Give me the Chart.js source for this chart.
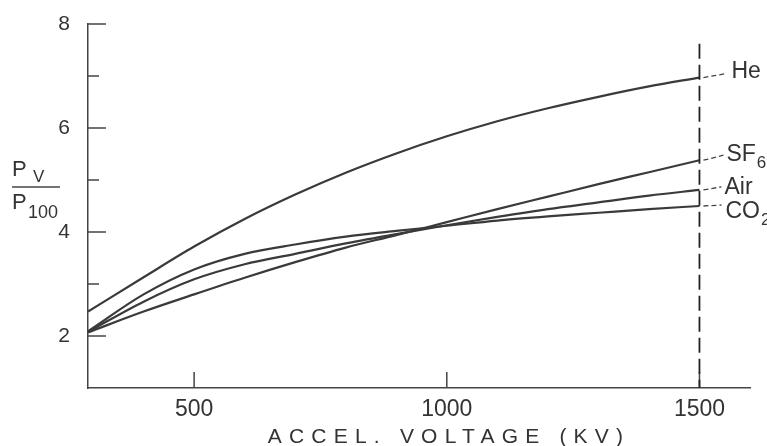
<!DOCTYPE html>
<html><head><meta charset="utf-8">
<script src="https://cdn.jsdelivr.net/npm/chart.js@4.4.1/dist/chart.umd.min.js"></script>
<style>html,body{margin:0;padding:0;background:#fff;overflow:hidden}canvas{display:block}</style>
</head><body>
<canvas id="c" width="767" height="446"></canvas>
<script>
// ---- data ----
const voltage   = [290, 400, 500, 600, 700, 800, 900, 1000, 1100, 1200, 1300, 1400, 1500];
const heValues  = [2.47, 3.13, 3.72, 4.25, 4.72, 5.14, 5.51, 5.84, 6.13, 6.38, 6.60, 6.80, 6.97];
const sf6Values = [2.07, 2.47, 2.80, 3.12, 3.42, 3.70, 3.94, 4.19, 4.44, 4.68, 4.92, 5.15, 5.38];
const airValues = [2.08, 2.66, 3.09, 3.38, 3.58, 3.78, 3.96, 4.13, 4.29, 4.44, 4.57, 4.70, 4.81];
const co2Values = [2.09, 2.80, 3.28, 3.58, 3.76, 3.91, 4.02, 4.12, 4.22, 4.30, 4.37, 4.44, 4.50];
const gasNames  = ['He', 'SF6', 'Air', 'CO2'];
const xTickValues = [500, 1000, 1500];
const yTickLabels = [2, 4, 6, 8];
const xAxisTitle = 'ACCEL. VOLTAGE (KV)';
const markerVoltage = 1500;
const markerTop = 7.62;

const seriesValues = [heValues, sf6Values, airValues, co2Values];
const INK = '#333';
const FONT = "'Liberation Sans', Arial, sans-serif";

// label placement relative to each curve end (pixels)
const labelLayout = [
  {tx: 32, ty: -6, lx: 27, ly: -4},
  {tx: 27, ty: -6, lx: 24, ly: -5},
  {tx: 25, ty: -2, lx: 22, ly: -3},
  {tx: 26, ty: 6,  lx: 22, ly: -1}
];

function line(ctx, x1, y1, x2, y2) { ctx.beginPath(); ctx.moveTo(x1, y1); ctx.lineTo(x2, y2); ctx.stroke(); }

function drawSubText(ctx, text, x, cy, size, subSize) {
  const m = text.match(/^(.*?)(\d+)$/);
  const main = m ? m[1] : text, sub = m ? m[2] : '';
  ctx.textAlign = 'left'; ctx.textBaseline = 'middle';
  ctx.font = size + 'px ' + FONT;
  ctx.fillText(main, x, cy);
  if (sub) {
    const w = ctx.measureText(main).width;
    ctx.font = subSize + 'px ' + FONT;
    ctx.fillText(sub, x + w + 1, cy + size * 0.38);
  }
}

const decor = {
  id: 'decor',
  afterDraw(chart) {
    const {ctx, chartArea: a} = chart;
    const x = chart.scales.x, y = chart.scales.y;
    ctx.save();
    ctx.strokeStyle = '#444'; ctx.lineWidth = 1.5; ctx.fillStyle = INK;
    // inside tick marks from the library's ticks
    y.ticks.forEach(t => {
      if (t.value <= y.min) return;
      const py = y.getPixelForValue(t.value);
      const len = yTickLabels.includes(t.value) ? 18 : 11;
      line(ctx, a.left, py, a.left + len, py);
    });
    x.ticks.forEach(t => {
      const px = x.getPixelForValue(t.value);
      line(ctx, px, a.bottom, px, a.bottom - 16);
    });
    // dashed marker line
    const mx = x.getPixelForValue(markerVoltage);
    ctx.strokeStyle = '#222'; ctx.lineWidth = 1.8; ctx.setLineDash([15, 6]);
    line(ctx, mx, y.getPixelForValue(markerTop), mx, a.bottom);
    // leaders and gas labels
    chart.data.datasets.forEach((ds, i) => {
      const last = ds.data[ds.data.length - 1];
      const px = x.getPixelForValue(last.x), py = y.getPixelForValue(last.y);
      const L = labelLayout[i];
      ctx.strokeStyle = '#444'; ctx.lineWidth = 1.3; ctx.setLineDash([5, 3]);
      line(ctx, px + 4, py, px + L.lx, py + L.ly);
      ctx.setLineDash([]);
      drawSubText(ctx, ds.label, px + L.tx, py + L.ty, 23, 17);
    });
    // y-axis fraction label  P_V / P_100
    ctx.setLineDash([]);
    ctx.textAlign = 'left'; ctx.textBaseline = 'middle';
    ctx.font = '22px ' + FONT;
    ctx.fillText('P', 12, 170);
    ctx.font = '17px ' + FONT;
    ctx.fillText('V', 33, 177);
    ctx.lineWidth = 1.5; ctx.strokeStyle = '#444';
    line(ctx, 12, 187, 60, 187);
    ctx.font = '22px ' + FONT;
    ctx.fillText('P', 12, 203);
    ctx.font = '18px ' + FONT;
    ctx.fillText('100', 28, 213);
    // x-axis title, letter-spaced
    ctx.font = '21px ' + FONT;
    ctx.letterSpacing = '7.2px';
    ctx.textAlign = 'center'; ctx.textBaseline = 'alphabetic';
    ctx.fillText(xAxisTitle, 449, 443);
    ctx.restore();
  }
};

new Chart(document.getElementById('c'), {
  type: 'line',
  data: {
    datasets: gasNames.map((name, i) => ({
      label: name,
      data: voltage.map((v, k) => ({x: v, y: seriesValues[i][k]})),
      borderColor: '#3a3a3a',
      borderWidth: 2.2,
      pointRadius: 0,
      fill: false,
      cubicInterpolationMode: 'monotone'
    }))
  },
  options: {
    responsive: false,
    animation: false,
    devicePixelRatio: 1,
    layout: {padding: {top: 24, right: 17, left: 0, bottom: 0}},
    plugins: {legend: {display: false}, tooltip: {enabled: false}},
    scales: {
      x: {
        type: 'linear', min: 290, max: 1600,
        afterBuildTicks: s => { s.ticks = xTickValues.map(v => ({value: v})); },
        afterFit: s => { s.height = 58; },
        grid: {display: false},
        border: {display: true, color: '#444', width: 1.5},
        ticks: {color: INK, font: {family: FONT, size: 23}, padding: 0, maxRotation: 0,
                callback: v => String(v)}
      },
      y: {
        type: 'linear', min: 1, max: 8,
        afterFit: s => { s.width = 88; },
        grid: {display: false},
        border: {display: true, color: '#444', width: 1.5},
        ticks: {stepSize: 1, color: INK, font: {family: FONT, size: 21}, padding: 10,
                callback: v => yTickLabels.includes(v) ? String(v) : ''}
      }
    }
  },
  plugins: [decor]
});
</script>
</body></html>
